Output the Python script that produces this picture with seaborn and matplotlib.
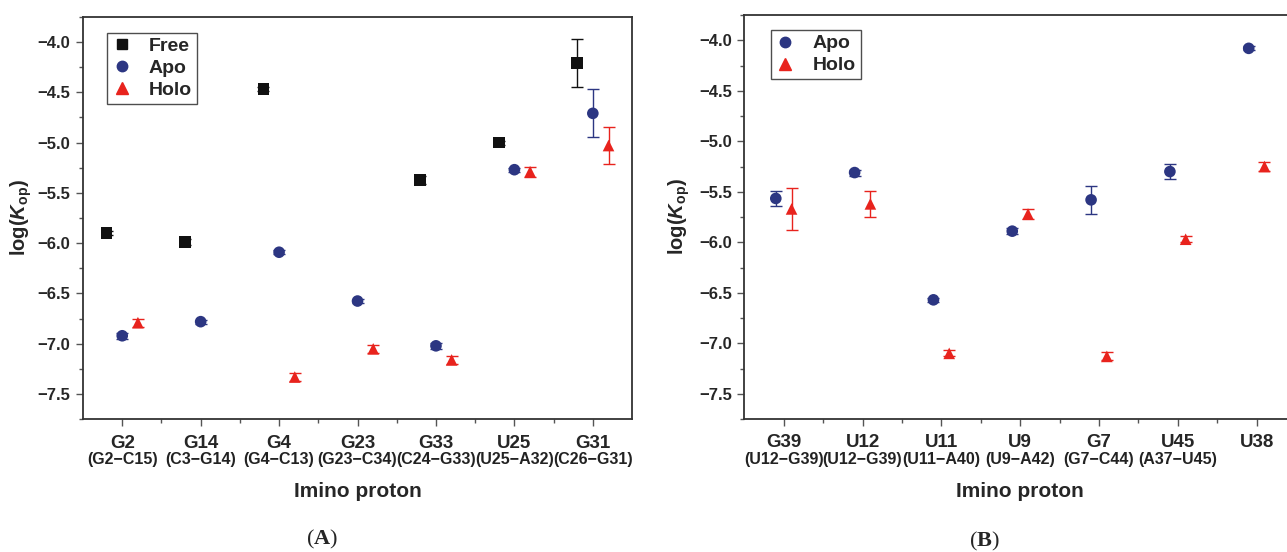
import numpy as np
import pandas as pd
import matplotlib
matplotlib.use('Agg')
import matplotlib.pyplot as plt
from matplotlib.lines import Line2D
import seaborn as sns

# ---- data ----
cats_a = ['G2', 'G14', 'G4', 'G23', 'G33', 'U25', 'G31']
pairs_a = ['(G2\u2212C15)', '(C3\u2212G14)', '(G4\u2212C13)', '(G23\u2212C34)',
           '(C24\u2212G33)', '(U25\u2212A32)', '(C26\u2212G31)']
free_a = [-5.90, -5.99, -4.47, np.nan, -5.37, -5.00, -4.21]
free_a_err = [0.02, 0.03, 0.02, np.nan, 0.04, 0.02, 0.24]
apo_a = [-6.92, -6.78, -6.09, -6.575, -7.02, -5.27, -4.71]
apo_a_err = [0.03, 0.02, 0.02, 0.02, 0.03, 0.02, 0.24]
holo_a = [-6.79, np.nan, -7.33, -7.05, -7.16, -5.29, -5.03]
holo_a_err = [0.04, np.nan, 0.04, 0.04, 0.04, 0.05, 0.18]

cats_b = ['G39', 'U12', 'U11', 'U9', 'G7', 'U45', 'U38']
pairs_b = ['(U12\u2212G39)', '(U12\u2212G39)', '(U11\u2212A40)', '(U9\u2212A42)',
           '(G7\u2212C44)', '(A37\u2212U45)', '']
apo_b = [-5.566, -5.31, -6.57, -5.89, -5.58, -5.30, -4.08]
apo_b_err = [0.07, 0.03, 0.02, 0.03, 0.14, 0.07, 0.02]
holo_b = [-5.67, -5.62, -7.10, -5.72, -7.13, -5.97, -5.25]
holo_b_err = [0.21, 0.13, 0.03, 0.05, 0.04, 0.03, 0.04]

colors = {'Free': '#111111', 'Apo': '#2c3682', 'Holo': '#e8231d'}
markers = {'Free': 's', 'Apo': 'o', 'Holo': '^'}

sns.set_style('ticks')
plt.rcParams['font.family'] = ['Liberation Sans', 'DejaVu Sans']
plt.rcParams['mathtext.fontset'] = 'custom'
plt.rcParams['mathtext.it'] = 'Liberation Sans:bold:italic'
plt.rcParams['mathtext.rm'] = 'Liberation Sans:bold'
plt.rcParams['mathtext.bf'] = 'Liberation Serif:bold'


def long_table(cats, series):
    rows = []
    for name, (vals, errs, off) in series.items():
        for i, c in enumerate(cats):
            if not np.isnan(vals[i]):
                rows.append({'cat': c, 'pos': i + off, 'state': name,
                             'val': vals[i], 'err': errs[i]})
    return pd.DataFrame(rows)


def draw_panel(ax, df, cats, pairs, ylim, states, ylab_x):
    for s in states:
        d = df[df.state == s]
        ax.errorbar(d.pos, d.val, yerr=d.err, fmt='none', ecolor=colors[s],
                    elinewidth=1.0, capsize=4.3, capthick=1.0, zorder=2)
    sns.scatterplot(data=df, x='pos', y='val', hue='state', style='state',
                    palette=colors, markers=markers, hue_order=states,
                    style_order=states, s=70, edgecolor='none',
                    legend=False, ax=ax, zorder=3)
    ax.set_xlim(-0.5, 6.5)
    ax.set_ylim(*ylim)
    ax.set_xticks(range(len(cats)))
    ax.set_xticklabels(cats, fontsize=13.5, fontweight='bold')
    ax.set_xticks(np.arange(0.5, 6.5, 1), minor=True)
    yt = np.arange(-7.5, -3.9, 0.5)
    ax.set_yticks(yt)
    ax.set_yticks(np.arange(-7.75, -3.7, 0.25), minor=True)
    ax.set_yticklabels([('%.1f' % v).replace('-', '\u2212') for v in yt],
                       fontsize=12, fontweight='bold')
    ax.tick_params(axis='both', which='major', direction='out', length=5, width=1.0,
                   color='#555555', pad=4)
    ax.tick_params(axis='both', which='minor', direction='out', length=3, width=1.0,
                   color='#555555')
    ax.tick_params(axis='x', which='major', pad=6)
    for side in ['left', 'bottom', 'right', 'top']:
        ax.spines[side].set_visible(True)
        ax.spines[side].set_linewidth(1.3)
        ax.spines[side].set_color('#333333')
    for i, p in enumerate(pairs):
        ax.text(i, -0.1, p, transform=ax.get_xaxis_transform(), ha='center',
                va='center', fontsize=11.5, fontweight='bold', color='#222222')
    ax.set_xlabel('Imino proton', fontsize=15, fontweight='bold', labelpad=22)
    ax.set_ylabel(r'log($K_{\mathrm{op}}$)', fontsize=14.5, fontweight='bold')
    ax.yaxis.set_label_coords(ylab_x, 0.5)
    handles = [Line2D([], [], ls='none', marker=markers[s], color=colors[s],
                      markersize=7.5 if s != 'Holo' else 8.5) for s in states]
    return handles


fig = plt.figure(figsize=(12.87, 5.52), dpi=100)
axA = fig.add_axes([0.0645, 0.2404, 0.4266, 0.7293])
axB = fig.add_axes([0.5783, 0.2409, 0.4287, 0.7319])

df_a = long_table(cats_a, {'Free': (free_a, free_a_err, -0.2),
                           'Apo': (apo_a, apo_a_err, 0.0),
                           'Holo': (holo_a, holo_a_err, 0.2)})
df_b = long_table(cats_b, {'Apo': (apo_b, apo_b_err, -0.1),
                           'Holo': (holo_b, holo_b_err, 0.1)})

hA = draw_panel(axA, df_a, cats_a, pairs_a, (-7.75, -3.75), ['Free', 'Apo', 'Holo'], -0.09)
hB = draw_panel(axB, df_b, cats_b, pairs_b, (-7.5, -3.75), ['Apo', 'Holo'], -0.094)

for ax, h, labs, anchor in [(axA, hA, ['Free', 'Apo', 'Holo'], (0.044, 0.96)),
                            (axB, hB, ['Apo', 'Holo'], (0.048, 0.963))]:
    leg = ax.legend(h, labs, loc='upper left', bbox_to_anchor=anchor, borderaxespad=0,
                    frameon=True, fancybox=False, edgecolor='#222222',
                    prop={'weight': 'bold', 'size': 14}, handletextpad=0.9,
                    handlelength=1.0, labelspacing=0.22, borderpad=0.25)
    leg.get_frame().set_linewidth(1.0)

fig.text(322 / 1287, 1 - 539 / 552, r'($\mathbf{A}$)', ha='center', va='center',
         fontsize=16, family='Liberation Serif')
fig.text(984 / 1287, 1 - 541 / 552, r'($\mathbf{B}$)', ha='center', va='center',
         fontsize=16, family='Liberation Serif')

fig.savefig('out.png', dpi=100)
